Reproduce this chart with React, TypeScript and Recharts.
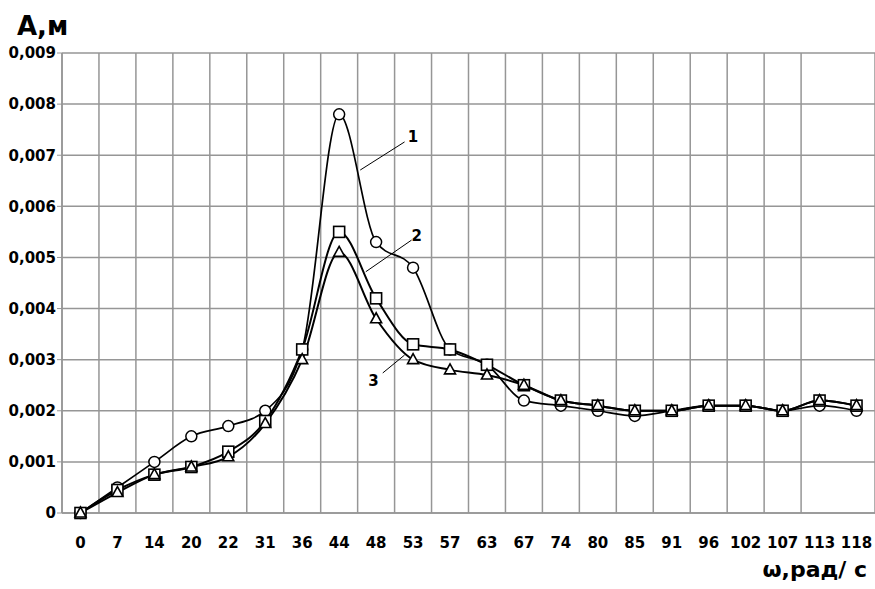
import { LineChart, Line, XAxis, YAxis, CartesianGrid, ReferenceLine, ReferenceDot } from "recharts";

const omega = ["0", "7", "14", "20", "22", "31", "36", "44", "48", "53", "57", "63", "67", "74", "80", "85", "91", "96", "102", "107", "113", "118"];

const curve1 = [0, 0.0005, 0.001, 0.0015, 0.0017, 0.002, 0.0032, 0.0078, 0.0053, 0.0048, 0.0032, 0.0029, 0.0022, 0.0021, 0.002, 0.0019, 0.002, 0.0021, 0.0021, 0.002, 0.0021, 0.002];
const curve2 = [0, 0.00045, 0.00075, 0.0009, 0.0012, 0.0018, 0.0032, 0.0055, 0.0042, 0.0033, 0.0032, 0.0029, 0.0025, 0.0022, 0.0021, 0.002, 0.002, 0.0021, 0.0021, 0.002, 0.0022, 0.0021];
const curve3 = [0, 0.0004, 0.00075, 0.0009, 0.0011, 0.00175, 0.003, 0.0051, 0.0038, 0.003, 0.0028, 0.0027, 0.0025, 0.0022, 0.0021, 0.002, 0.002, 0.0021, 0.0021, 0.002, 0.0022, 0.0021];

const yTicks = [0, 0.001, 0.002, 0.003, 0.004, 0.005, 0.006, 0.007, 0.008, 0.009];

// curve number labels with leader lines, in (index, value) units
const callouts = [
  { name: "1", from: [7.57, 0.00671], to: [8.77, 0.00726], at: [9.0, 0.00736] },
  { name: "2", from: [7.72, 0.00472], to: [8.96, 0.00534], at: [9.1, 0.00542] },
  { name: "3", from: [8.77, 0.00309], to: [8.18, 0.00274], at: [7.93, 0.00258] },
];

const data = omega.map((w, i) => ({ idx: i, w, c1: curve1[i], c2: curve2[i], c3: curve3[i] }));
const cellEdges = [...omega.map((_, i) => i - 0.5), omega.length - 0.5];

const font = "'DejaVu Sans', Verdana, sans-serif";
const gridGray = "#969696";

const CircleDot = (p: any) => (
  <circle key={p.key} cx={p.cx} cy={p.cy} r={5.5} fill="#fff" stroke="#000" strokeWidth={1.5} />
);

const SquareDot = (p: any) => (
  <rect key={p.key} x={p.cx - 5.5} y={p.cy - 5.5} width={11} height={11} fill="#fff" stroke="#000" strokeWidth={1.6} />
);

const TriangleDot = (p: any) => (
  <polygon
    key={p.key}
    points={`${p.cx},${p.cy - 6} ${p.cx - 5.5},${p.cy + 4} ${p.cx + 5.5},${p.cy + 4}`}
    fill="#fff"
    stroke="#000"
    strokeWidth={1.6}
  />
);

export default function App() {
  return (
    <div style={{ position: "absolute", left: 0, top: 0, width: 875, height: 589, background: "#fff", fontFamily: font }}>
      <div style={{ position: "absolute", left: 17, top: 11, fontSize: 26, fontWeight: "bold", color: "#000" }}>А,м</div>
      <div style={{ position: "absolute", right: 8, top: 557, fontSize: 22, fontWeight: "bold", color: "#000" }}>ω,рад/ с</div>
      <LineChart width={875} height={589} data={data} margin={{ top: 53, right: 0, left: 0, bottom: 46 }}>
        <CartesianGrid xAxisId="grid" stroke={gridGray} strokeWidth={1.5} />
        <XAxis
          xAxisId="grid"
          dataKey="idx"
          type="number"
          domain={[-0.5, omega.length - 0.5]}
          ticks={cellEdges}
          hide
        />
        <XAxis
          dataKey="idx"
          type="number"
          domain={[-0.5, omega.length - 0.5]}
          ticks={omega.map((_, i) => i)}
          interval={0}
          tickFormatter={(i: number) => omega[i]}
          tickLine={false}
          tickSize={0}
          tickMargin={24}
          height={30}
          axisLine={{ stroke: gridGray, strokeWidth: 1.5 }}
          tick={{ fill: "#000", fontSize: 15, fontWeight: "bold", fontFamily: font }}
        />
        <YAxis
          domain={[0, 0.009]}
          ticks={yTicks}
          interval={0}
          width={62}
          tickSize={5}
          tickMargin={1}
          tickFormatter={(v: number) => (v === 0 ? "0" : v.toFixed(3).replace(".", ","))}
          tickLine={{ stroke: gridGray }}
          axisLine={{ stroke: gridGray, strokeWidth: 1.5 }}
          tick={{ fill: "#000", fontSize: 15, fontWeight: "bold", fontFamily: font }}
        />
        <Line type="monotone" dataKey="c1" stroke="#000" strokeWidth={1.7} dot={CircleDot} isAnimationActive={false} />
        <Line type="monotone" dataKey="c2" stroke="#000" strokeWidth={2} dot={SquareDot} isAnimationActive={false} />
        <Line type="monotone" dataKey="c3" stroke="#000" strokeWidth={2} dot={TriangleDot} isAnimationActive={false} />
        {callouts.map((c) => (
          <ReferenceLine
            key={"l" + c.name}
            segment={[{ x: c.from[0], y: c.from[1] }, { x: c.to[0], y: c.to[1] }]}
            stroke="#000"
            strokeWidth={1}
          />
        ))}
        {callouts.map((c) => (
          <ReferenceDot
            key={"t" + c.name}
            x={c.at[0]}
            y={c.at[1]}
            r={0}
            shape={(p: any) => (
              <text x={p.cx} y={p.cy} textAnchor="middle" dominantBaseline="central" fontSize={15} fontWeight="bold" fontFamily={font} fill="#000">
                {c.name}
              </text>
            )}
          />
        ))}
      </LineChart>
    </div>
  );
}
